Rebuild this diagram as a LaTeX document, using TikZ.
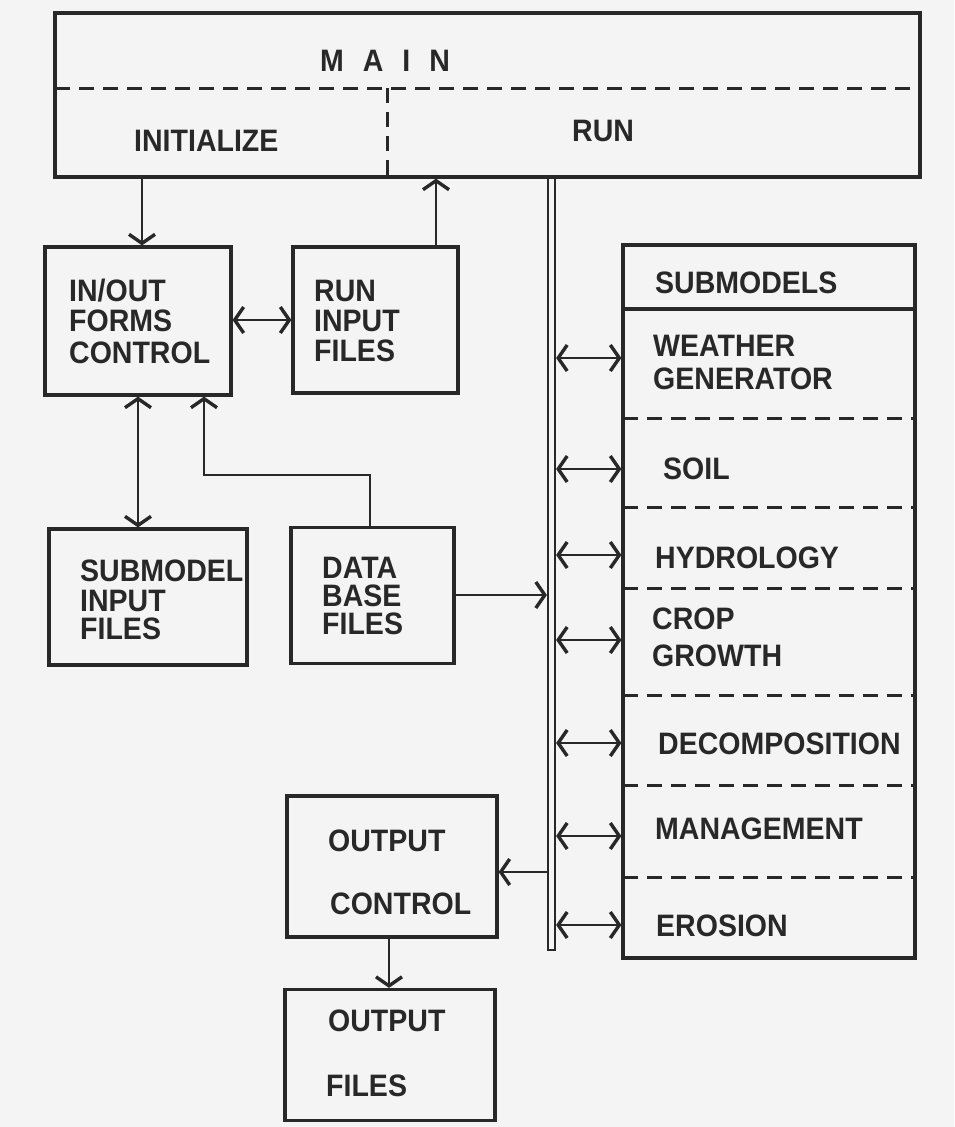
\documentclass[tikz,border=0pt]{standalone}
\usepackage{fontspec}
\setmainfont{Liberation Sans}[FakeStretch=0.92]
\usetikzlibrary{arrows.meta}
\definecolor{ink}{RGB}{40,40,40}
\definecolor{paper}{RGB}{244,244,244}
\begin{document}
\begin{tikzpicture}[x=1pt,y=-1pt,
  barb/.tip={Straight Barb[length=9pt,width=26pt,line width=3.4pt]},
  box/.style={draw=ink, line width=3.2pt, inner sep=0pt, fill=none},
  lbl/.style={font=\fontsize{31}{33}\selectfont\bfseries, text=ink, anchor=base west, inner sep=0pt},
  sepline/.style={draw=ink, dash pattern=on 15pt off 9pt, line width=3pt},
  link/.style={draw=ink, line width=2.8pt},
  onearrow/.style={link, -barb},
  twoarrow/.style={link, barb-barb}]
\fill[paper] (0,0) rectangle (954,1127);
\useasboundingbox (0,0) rectangle (954,1127);

% MAIN
\node[box, minimum width=865pt, minimum height=164pt] (main) at (487.5,95) {};
\coordinate (mdl) at (55,88);
\coordinate (mdr) at (920,88);
\draw[sepline] (mdl) -- (mdr);
\coordinate (vtop) at (387,88);
\draw[sepline] (vtop) -- (vtop |- main.south);
\node[lbl, anchor=base] (tmain) at (385,71) {M\hspace{19pt}A\hspace{19pt}I\hspace{19pt}N};
\node[lbl] (tinit) at (134,151) {INITIALIZE};
\node[lbl] (trun) at (572,141) {RUN};

% left boxes
\node[box, minimum width=186pt, minimum height=148pt] (io) at (138,321) {};
\node[box, minimum width=165pt, minimum height=146pt] (rif) at (375.5,320) {};
\node[box, minimum width=198pt, minimum height=136pt] (sif) at (148,597) {};
\node[box, minimum width=163pt, minimum height=136pt] (dbf) at (372.5,595.5) {};
\node[box, minimum width=210pt, minimum height=141pt] (oc) at (392,866.5) {};
\node[box, minimum width=210pt, minimum height=131pt] (of) at (390,1055) {};

\node[lbl] at (69,301) {IN/OUT};
\node[lbl] at (69,331) {FORMS};
\node[lbl] at (69,363) {CONTROL};
\node[lbl] at (314,301) {RUN};
\node[lbl] at (314,331) {INPUT};
\node[lbl] at (314,361) {FILES};
\node[lbl] at (80,581) {SUBMODEL};
\node[lbl] at (80,611) {INPUT};
\node[lbl] at (80,639) {FILES};
\node[lbl] at (322,578) {DATA};
\node[lbl] at (322,606) {BASE};
\node[lbl] at (322,634) {FILES};
\node[lbl] at (328,851) {OUTPUT};
\node[lbl] at (330,914) {CONTROL};
\node[lbl] at (328,1031) {OUTPUT};
\node[lbl] at (326,1096) {FILES};

% bus
\node[draw=ink, line width=2.2pt, inner sep=0pt, minimum width=7pt, minimum height=773pt] (bus) at (551.5,563.5) {};

% SUBMODELS
\node[box, minimum width=292pt, minimum height=713pt] (sub) at (769,601.5) {};
\coordinate (hl) at (623,309);
\draw[link, line width=3.2pt] (hl) -- (hl -| sub.east);
\foreach \yy in {418,507,588,695,785,877}{
  \draw[sepline] (623,\yy) -- (915,\yy);
}
\node[lbl] at (655,293) {SUBMODELS};
\node[lbl] at (653,356) {WEATHER};
\node[lbl] at (653,389) {GENERATOR};
\node[lbl] at (663,479) {SOIL};
\node[lbl] at (655,568) {HYDROLOGY};
\node[lbl] at (652,629) {CROP};
\node[lbl] at (652,666) {GROWTH};
\node[lbl] at (658,754) {DECOMPOSITION};
\node[lbl] at (655,839) {MANAGEMENT};
\node[lbl] at (656,936) {EROSION};

% connectors
\draw[onearrow] (main.south -| 142,0) -- (io.north -| 142,0);
\draw[onearrow] (rif.north -| 436,0) -- (main.south -| 436,0);
\draw[twoarrow] (io.east |- 0,320) -- (rif.west |- 0,320);
\draw[twoarrow] (io.south -| 138,0) -- (sif.north -| 138,0);
\coordinate (dbk1) at (370,475);
\coordinate (dbk2) at (204,475);
\draw[link, -barb] (dbf.north -| dbk1) -- (dbk1) -- (dbk2) -- (io.south -| dbk2);
\draw[onearrow] (dbf.east |- 0,595) -- (bus.west |- 0,595);
\draw[onearrow] (bus.west |- 0,872) -- (oc.east |- 0,872);
\draw[onearrow] (oc.south -| 389,0) -- (of.north -| 389,0);
\foreach \yy in {358,469,555,640,743,836,925}{
  \draw[twoarrow] (bus.east |- 0,\yy) -- (sub.west |- 0,\yy);
}
\end{tikzpicture}
\end{document}
